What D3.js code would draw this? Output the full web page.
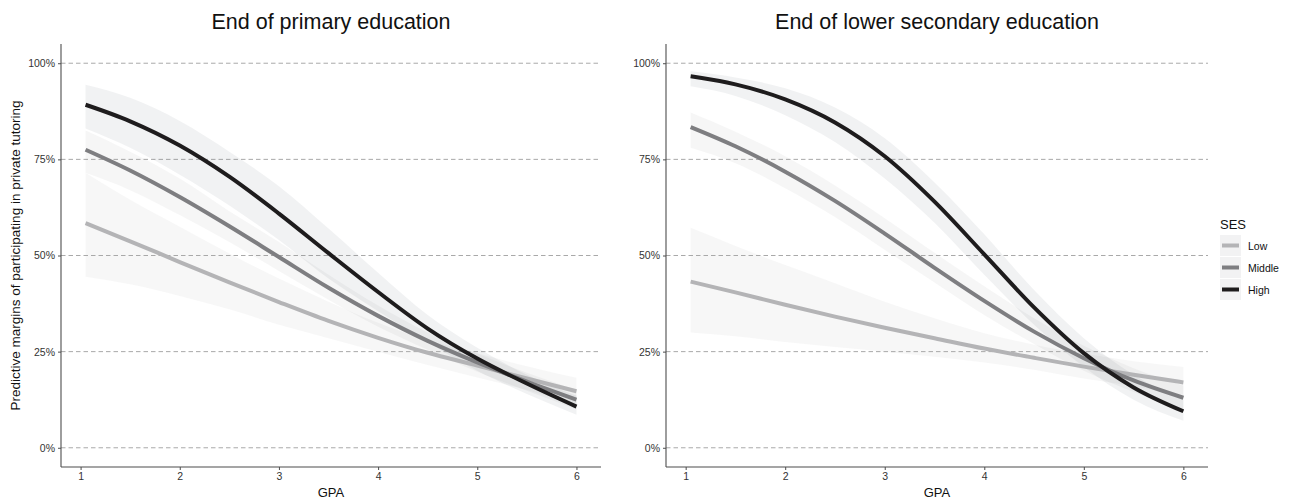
<!DOCTYPE html>
<html>
  <head>
    <meta charset="UTF-8" />
    <script src="https://d3js.org/d3.v7.min.js"></script>
    <style>
      body { margin: 0; background: #fff; }
      text { font-family: "Liberation Sans", Arial, sans-serif; }
    </style>
  </head>
  <body>
    <svg width="1289" height="500"></svg>

    <script>
      const gpa = [1.05, 1.5, 2, 2.5, 3, 3.5, 4, 4.5, 5, 5.5, 6];
      const sesLevels = ["Low", "Middle", "High"];
      const yTicks = [0, 0.25, 0.5, 0.75, 1];
      const xTicks = [1, 2, 3, 4, 5, 6];

      // End of primary education
      const primLow = [0.584, 0.537, 0.483, 0.43, 0.379, 0.33, 0.286, 0.247, 0.214, 0.18, 0.147];
      const primLowLo = [0.445, 0.425, 0.395, 0.36, 0.32, 0.285, 0.25, 0.215, 0.183, 0.15, 0.112];
      const primLowHi = [0.715, 0.645, 0.575, 0.505, 0.44, 0.38, 0.325, 0.28, 0.246, 0.212, 0.182];
      const primMid = [0.775, 0.721, 0.652, 0.576, 0.496, 0.416, 0.343, 0.278, 0.222, 0.172, 0.125];
      const primMidLo = [0.715, 0.67, 0.605, 0.535, 0.46, 0.385, 0.315, 0.255, 0.198, 0.148, 0.1];
      const primMidHi = [0.825, 0.77, 0.7, 0.615, 0.535, 0.45, 0.37, 0.3, 0.245, 0.195, 0.15];
      const primHigh = [0.892, 0.849, 0.786, 0.705, 0.609, 0.506, 0.405, 0.31, 0.232, 0.167, 0.107];
      const primHighLo = [0.83, 0.78, 0.71, 0.63, 0.54, 0.44, 0.355, 0.275, 0.2, 0.14, 0.086];
      const primHighHi = [0.944, 0.91, 0.85, 0.77, 0.68, 0.57, 0.455, 0.345, 0.26, 0.19, 0.135];

      // End of lower secondary education
      const secLow = [0.432, 0.404, 0.372, 0.341, 0.312, 0.285, 0.258, 0.234, 0.211, 0.19, 0.17];
      const secLowLo = [0.3, 0.29, 0.275, 0.262, 0.25, 0.237, 0.222, 0.203, 0.18, 0.16, 0.138];
      const secLowHi = [0.572, 0.525, 0.475, 0.428, 0.38, 0.337, 0.298, 0.268, 0.245, 0.225, 0.21];
      const secMid = [0.834, 0.784, 0.718, 0.642, 0.557, 0.468, 0.382, 0.302, 0.233, 0.175, 0.13];
      const secMidLo = [0.78, 0.74, 0.675, 0.6, 0.515, 0.43, 0.345, 0.27, 0.2, 0.145, 0.1];
      const secMidHi = [0.872, 0.822, 0.758, 0.682, 0.597, 0.507, 0.42, 0.337, 0.265, 0.207, 0.162];
      const secHigh = [0.966, 0.945, 0.906, 0.846, 0.758, 0.64, 0.503, 0.365, 0.246, 0.157, 0.095];
      const secHighLo = [0.94, 0.915, 0.865, 0.795, 0.7, 0.585, 0.45, 0.32, 0.21, 0.125, 0.07];
      const secHighHi = [0.979, 0.963, 0.935, 0.885, 0.805, 0.69, 0.555, 0.41, 0.285, 0.19, 0.125];

      const lineColor = { Low: "#b4b4b6", Middle: "#7e7e81", High: "#1e1c1d" };
      const bandColor = { Low: "#b0b0b0", Middle: "#8a8a8a", High: "#5a6470" };
      const bandOpacity = { Low: 0.1, Middle: 0.08, High: 0.085 };

      const svg = d3.select("svg");

      const panels = [
        {
          title: "End of primary education",
          left: 61, right: 601,
          series: {
            Low: [primLow, primLowLo, primLowHi],
            Middle: [primMid, primMidLo, primMidHi],
            High: [primHigh, primHighLo, primHighHi]
          }
        },
        {
          title: "End of lower secondary education",
          left: 666, right: 1208,
          series: {
            Low: [secLow, secLowLo, secLowHi],
            Middle: [secMid, secMidLo, secMidHi],
            High: [secHigh, secHighLo, secHighHi]
          }
        }
      ];

      const plotTop = 44, plotBottom = 467;
      const y = d3.scaleLinear().domain([-0.05, 1.05]).range([plotBottom, plotTop]);

      panels.forEach(function (p) {
        const x = d3.scaleLinear().domain([0.8025, 6.2475]).range([p.left, p.right]);
        const g = svg.append("g");

        // dashed grid
        g.selectAll("line.grid")
          .data(yTicks)
          .enter()
          .append("line")
          .attr("x1", p.left)
          .attr("x2", p.right)
          .attr("y1", d => y(d))
          .attr("y2", d => y(d))
          .attr("stroke", "#a9a9a9")
          .attr("stroke-width", 1)
          .attr("stroke-dasharray", "4.5,3");

        // ribbons
        const area = d3.area()
          .x(d => x(d.x))
          .y0(d => y(d.lo))
          .y1(d => y(d.hi))
          .curve(d3.curveMonotoneX);
        sesLevels.forEach(function (s) {
          const vals = p.series[s];
          const rows = gpa.map((v, i) => ({ x: v, lo: vals[1][i], hi: vals[2][i] }));
          g.append("path")
            .datum(rows)
            .attr("d", area)
            .attr("fill", bandColor[s])
            .attr("fill-opacity", bandOpacity[s]);
        });

        // fitted lines
        const line = d3.line()
          .x(d => x(d.x))
          .y(d => y(d.v))
          .curve(d3.curveMonotoneX);
        sesLevels.forEach(function (s) {
          const vals = p.series[s];
          const rows = gpa.map((v, i) => ({ x: v, v: vals[0][i] }));
          g.append("path")
            .datum(rows)
            .attr("d", line)
            .attr("fill", "none")
            .attr("stroke", lineColor[s])
            .attr("stroke-width", 4);
        });

        // axes
        const xAxis = d3.axisBottom(x).tickValues(xTicks).tickSize(3).tickPadding(3)
          .tickFormat(d3.format("d"));
        const yAxis = d3.axisLeft(y).tickValues(yTicks).tickSize(3).tickPadding(3)
          .tickFormat(d => Math.round(d * 100) + "%");
        const xa = g.append("g").attr("transform", "translate(0," + plotBottom + ")").call(xAxis);
        const ya = g.append("g").attr("transform", "translate(" + p.left + ",0)").call(yAxis);
        [xa, ya].forEach(function (a) {
          a.select(".domain").attr("stroke", "#4d4d4d").attr("stroke-width", 1.1)
            .attr("d", a === xa ? "M" + p.left + ",0H" + p.right : "M0," + plotTop + "V" + plotBottom);
          a.selectAll(".tick line").attr("stroke", "#4d4d4d");
          a.selectAll(".tick text").attr("fill", "#333").style("font-size", "10.5px")
            .style("font-family", "'Liberation Sans', Arial, sans-serif");
        });

        // titles
        g.append("text")
          .attr("x", (p.left + p.right) / 2)
          .attr("y", 29)
          .attr("text-anchor", "middle")
          .style("font-size", "21.5px")
          .attr("fill", "#111")
          .text(p.title);
        g.append("text")
          .attr("x", (p.left + p.right) / 2)
          .attr("y", 497)
          .attr("text-anchor", "middle")
          .style("font-size", "13px")
          .attr("fill", "#111")
          .text("GPA");
      });

      svg.append("text")
        .attr("transform", "translate(20," + (plotTop + plotBottom) / 2 + ") rotate(-90)")
        .attr("text-anchor", "middle")
        .style("font-size", "13.5px")
        .attr("fill", "#111")
        .text("Predictive margins of participating in private tutoring");

      // legend
      const legend = svg.append("g").attr("transform", "translate(1220,0)");
      legend.append("text")
        .attr("x", 0)
        .attr("y", 229)
        .style("font-size", "13px")
        .attr("fill", "#111")
        .text("SES");
      const keys = legend.selectAll("g.key")
        .data(sesLevels)
        .enter()
        .append("g")
        .attr("transform", (d, i) => "translate(0," + (235 + i * 22) + ")");
      keys.append("rect")
        .attr("width", 21)
        .attr("height", 21)
        .attr("fill", "#f2f2f3");
      keys.append("line")
        .attr("x1", 2)
        .attr("x2", 19)
        .attr("y1", 10.5)
        .attr("y2", 10.5)
        .attr("stroke", d => lineColor[d])
        .attr("stroke-width", 4);
      keys.append("text")
        .attr("x", 28)
        .attr("y", 14.5)
        .style("font-size", "10.5px")
        .attr("fill", "#111")
        .text(d => d);
    </script>
  </body>
</html>
